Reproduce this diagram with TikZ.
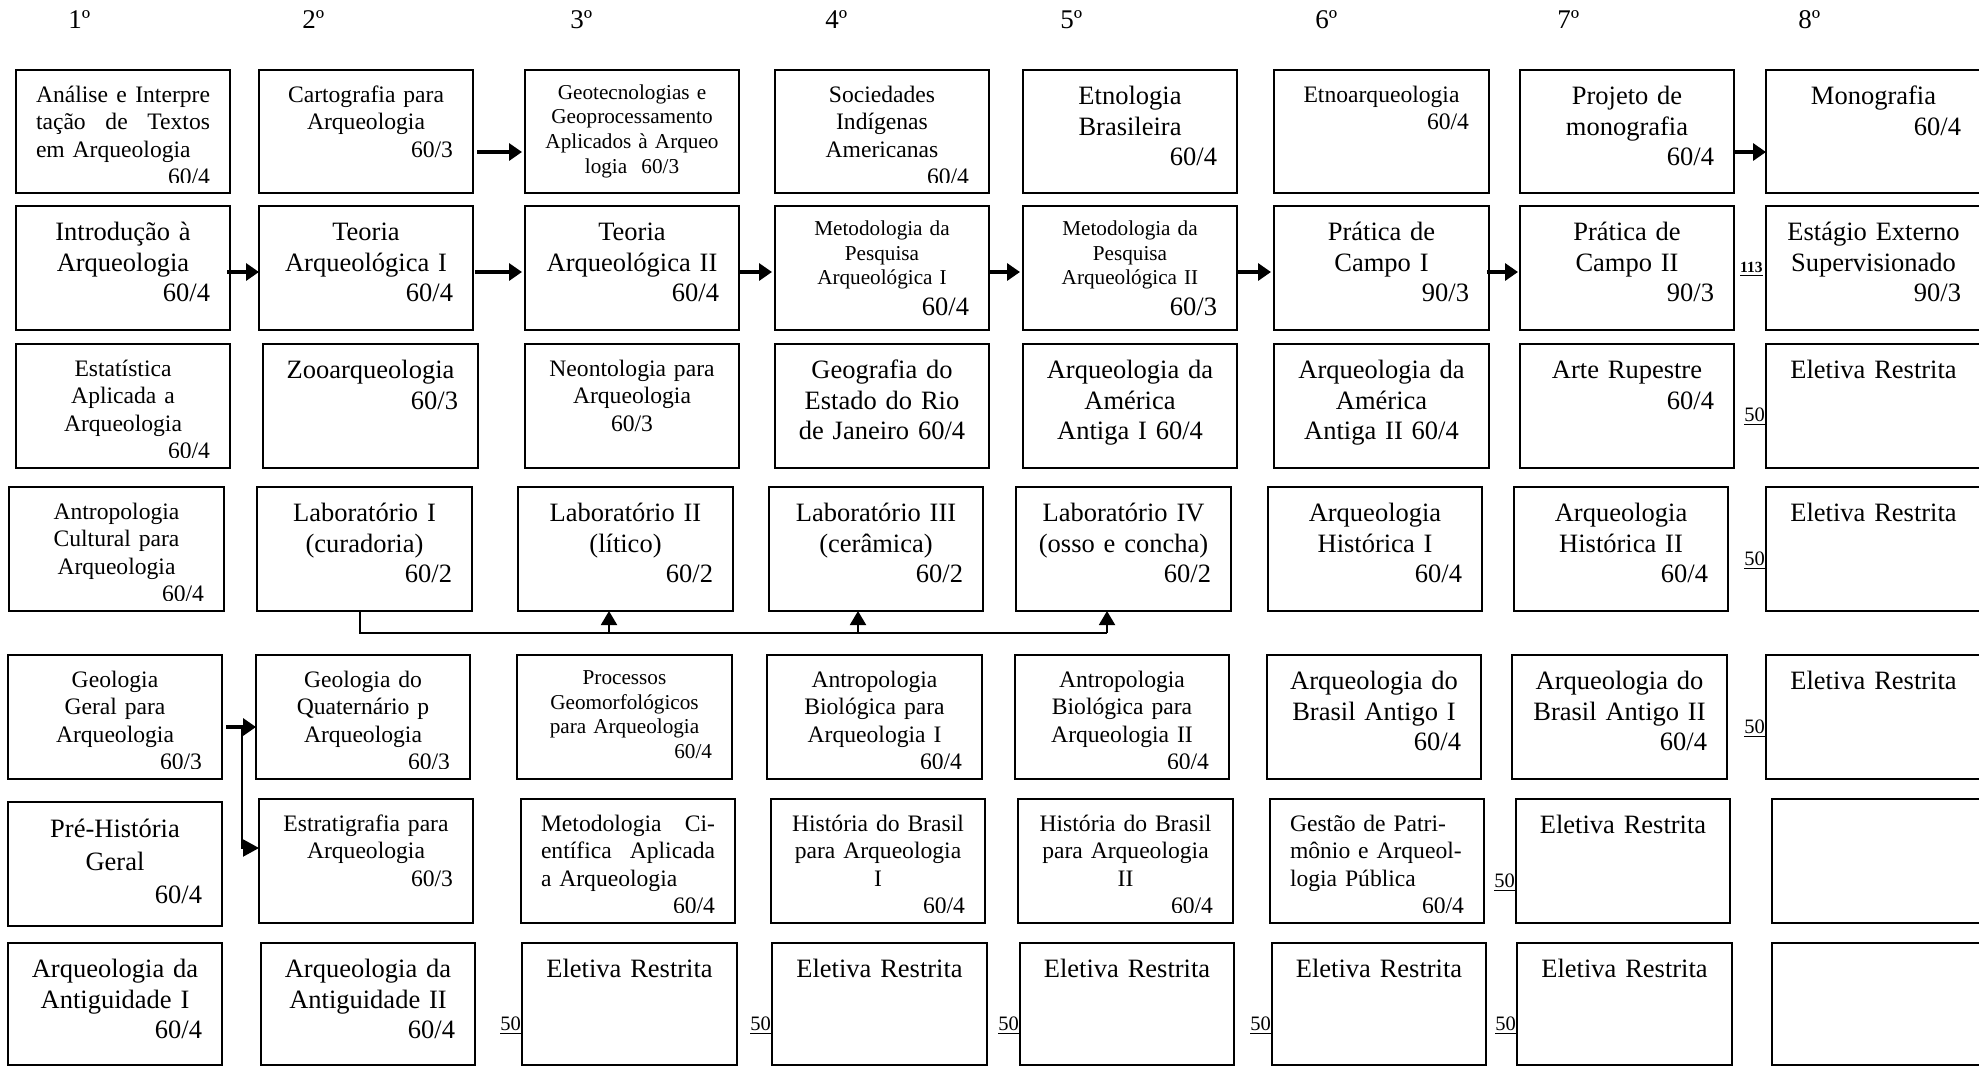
\documentclass[tikz,border=0pt]{standalone}
\usepackage{fontspec}
\setmainfont{Liberation Serif}
\usetikzlibrary{arrows.meta}
\tikzset{
  box/.style={draw, line width=1pt, inner sep=0pt, outer sep=0pt, anchor=north west},
  txt/.style={inner sep=0pt, outer sep=0pt, anchor=north, execute at begin node={\parindent=0pt}},
  lg/.style={font=\fontsize{13.25}{15.25}\selectfont, yshift=-6.6pt},
  lgw/.style={font=\fontsize{13.25}{16.5}\selectfont, yshift=-5.95pt},
  md/.style={font=\fontsize{11.8}{13.75}\selectfont, yshift=-6.6pt},
  sm/.style={font=\fontsize{10.6}{12.35}\selectfont, yshift=-6pt},
  hdr/.style={font=\fontsize{13.5}{15}\selectfont, inner sep=0pt, anchor=base west},
  num/.style={font=\fontsize{10.25}{12}\selectfont, inner sep=0pt, anchor=base east, xshift=-0.4pt},
  bnum/.style={font=\fontsize{7.75}{9}\selectfont\bfseries, inner sep=0pt, anchor=base east, xshift=-1.5pt},
  arr/.style={line width=2pt, -{Triangle[length=6.5pt,width=8.5pt]}},
  brarr/.style={line width=1pt, -{Triangle[length=8pt,width=8.5pt]}},
  bus/.style={line width=1pt},
  busarr/.style={line width=1pt, -{Triangle[length=7pt,width=8pt]}},
}
\newcommand\cb[7]{%
  \node[box, minimum width={(#4-#2)*0.5pt}, minimum height={(#5-#3)*0.5pt}] (#1) at (#2,#3) {};
  \begin{scope}
    \clip (#1.north west) rectangle ([yshift=5.25pt]#1.south east);
    \node[txt, #6, text width={(#4-#2-40)*0.5pt}] (#1-t) at (#1.north) {\strut #7\par};
  \end{scope}
}
\newcommand\jst{\leftskip=0pt\rightskip=0pt\parfillskip=0pt plus 1fil\relax}
\begin{document}
\begin{tikzpicture}[x=0.5pt,y=-0.5pt]
\fill[white] (0,0) rectangle (1979,1067);
\useasboundingbox (0,0) rectangle (1979,1067);

% headers
\node[hdr] (h1) at (68,28) {1º};
\node[hdr] (h2) at (302,28) {2º};
\node[hdr] (h3) at (570,28) {3º};
\node[hdr] (h4) at (825,28) {4º};
\node[hdr] (h5) at (1060,28) {5º};
\node[hdr] (h6) at (1315,28) {6º};
\node[hdr] (h7) at (1557,28) {7º};
\node[hdr] (h8) at (1798,28) {8º};

% row 1
\cb{r1c1}{16}{70}{230}{193}{md}{\jst Análise\hfill e\hfill Interpre\\tação\hfill de\hfill Textos\\em Arqueologia\\\hspace*{\fill}60/4}
\cb{r1c2}{259}{70}{473}{193}{md}{\centering Cartografia para\\Arqueologia\\\hspace*{\fill}60/3}
\cb{r1c3}{525}{70}{739}{193}{sm}{\centering Geotecnologias e\\Geoprocessamento\\Aplicados à Arqueo\\logia\ \ 60/3}
\cb{r1c4}{775}{70}{989}{193}{md}{\centering Sociedades\\Indígenas\\Americanas\\\hspace*{\fill}60/4}
\cb{r1c5}{1023}{70}{1237}{193}{lg}{\centering Etnologia\\Brasileira\\\hspace*{\fill}60/4}
\cb{r1c6}{1274}{70}{1489}{193}{md}{\centering Etnoarqueologia\\\hspace*{\fill}60/4}
\cb{r1c7}{1520}{70}{1734}{193}{lg}{\centering Projeto de\\monografia\\\hspace*{\fill}60/4}
\cb{r1c8}{1766}{70}{1981}{193}{lg}{\centering Monografia\\\hspace*{\fill}60/4}

% row 2
\cb{r2c1}{16}{206}{230}{330}{lg}{\centering Introdução à\\Arqueologia\\\hspace*{\fill}60/4}
\cb{r2c2}{259}{206}{473}{330}{lg}{\centering Teoria\\Arqueológica I\\\hspace*{\fill}60/4}
\cb{r2c3}{525}{206}{739}{330}{lg}{\centering Teoria\\Arqueológica II\\\hspace*{\fill}60/4}
\cb{r2c4}{775}{206}{989}{330}{sm}{\centering Metodologia da\\Pesquisa\\Arqueológica I\\\fontsize{13.25}{15.25}\selectfont\hspace*{\fill}60/4}
\cb{r2c5}{1023}{206}{1237}{330}{sm}{\centering Metodologia da\\Pesquisa\\Arqueológica II\\\fontsize{13.25}{15.25}\selectfont\hspace*{\fill}60/3}
\cb{r2c6}{1274}{206}{1489}{330}{lg}{\centering Prática de\\Campo I\\\hspace*{\fill}90/3}
\cb{r2c7}{1520}{206}{1734}{330}{lg}{\centering Prática de\\Campo II\\\hspace*{\fill}90/3}
\cb{r2c8}{1766}{206}{1981}{330}{lg}{\centering Estágio Externo\\Supervisionado\\\hspace*{\fill}90/3}

% row 3
\cb{r3c1}{16}{344}{230}{468}{md}{\centering Estatística\\Aplicada a\\Arqueologia\\\hspace*{\fill}60/4}
\cb{r3c2}{263}{344}{478}{468}{lg}{\centering Zooarqueologia\\\hspace*{\fill}60/3}
\cb{r3c3}{525}{344}{739}{468}{md}{\centering Neontologia para\\Arqueologia\\60/3}
\cb{r3c4}{775}{344}{989}{468}{lg}{\centering Geografia do\\Estado do Rio\\de Janeiro 60/4}
\cb{r3c5}{1023}{344}{1237}{468}{lg}{\centering Arqueologia da\\América\\Antiga I 60/4}
\cb{r3c6}{1274}{344}{1489}{468}{lg}{\centering Arqueologia da\\América\\Antiga II 60/4}
\cb{r3c7}{1520}{344}{1734}{468}{lg}{\centering Arte Rupestre\\\hspace*{\fill}60/4}
\cb{r3c8}{1766}{344}{1981}{468}{lg}{\centering Eletiva Restrita}

% row 4
\cb{r4c1}{9}{487}{224}{611}{md}{\centering Antropologia\\Cultural para\\Arqueologia\\\hspace*{\fill}60/4}
\cb{r4c2}{257}{487}{472}{611}{lg}{\centering Laboratório I\\(curadoria)\\\hspace*{\fill}60/2}
\cb{r4c3}{518}{487}{733}{611}{lg}{\centering Laboratório II\\(lítico)\\\hspace*{\fill}60/2}
\cb{r4c4}{769}{487}{983}{611}{lg}{\centering Laboratório III\\(cerâmica)\\\hspace*{\fill}60/2}
\cb{r4c5}{1016}{487}{1231}{611}{lg}{\centering Laboratório IV\\(osso e concha)\\\hspace*{\fill}60/2}
\cb{r4c6}{1268}{487}{1482}{611}{lg}{\centering Arqueologia\\Histórica I\\\hspace*{\fill}60/4}
\cb{r4c7}{1514}{487}{1728}{611}{lg}{\centering Arqueologia\\Histórica II\\\hspace*{\fill}60/4}
\cb{r4c8}{1766}{487}{1981}{611}{lg}{\centering Eletiva Restrita}

% row 5
\cb{r5c1}{8}{655}{222}{779}{md}{\centering Geologia\\Geral para\\Arqueologia\\\hspace*{\fill}60/3}
\cb{r5c2}{256}{655}{470}{779}{md}{\centering Geologia do\\Quaternário p\\Arqueologia\\\hspace*{\fill}60/3}
\cb{r5c3}{517}{655}{732}{779}{sm}{\centering Processos\\Geomorfológicos\\para Arqueologia\\\hspace*{\fill}60/4}
\cb{r5c4}{767}{655}{982}{779}{md}{\centering Antropologia\\Biológica para\\Arqueologia I\\\hspace*{\fill}60/4}
\cb{r5c5}{1015}{655}{1229}{779}{md}{\centering Antropologia\\Biológica para\\Arqueologia II\\\hspace*{\fill}60/4}
\cb{r5c6}{1267}{655}{1481}{779}{lg}{\centering Arqueologia do\\Brasil Antigo I\\\hspace*{\fill}60/4}
\cb{r5c7}{1512}{655}{1727}{779}{lg}{\centering Arqueologia do\\Brasil Antigo II\\\hspace*{\fill}60/4}
\cb{r5c8}{1766}{655}{1981}{779}{lg}{\centering Eletiva Restrita}

% row 6
\cb{r6c1}{8}{802}{222}{926}{lgw}{\centering Pré-História\\Geral\\\hspace*{\fill}60/4}
\cb{r6c2}{259}{799}{473}{923}{md}{\centering Estratigrafia para\\Arqueologia\\\hspace*{\fill}60/3}
\cb{r6c3}{521}{799}{735}{923}{md}{\jst Metodologia\hfill Ci-\\entífica\hfill Aplicada\\a Arqueologia\\\hspace*{\fill}60/4}
\cb{r6c4}{771}{799}{985}{923}{md}{\centering História do Brasil\\para Arqueologia\\I\\\hspace*{\fill}60/4}
\cb{r6c5}{1018}{799}{1233}{923}{md}{\centering História do Brasil\\para Arqueologia\\II\\\hspace*{\fill}60/4}
\cb{r6c6}{1270}{799}{1484}{923}{md}{\raggedright Gestão de Patri-\\mônio e Arqueol-\\logia Pública\\\hspace*{\fill}60/4}
\cb{r6c7}{1516}{799}{1730}{923}{lg}{\centering Eletiva Restrita}
\cb{r6c8}{1772}{799}{1981}{923}{lg}{}

% row 7
\cb{r7c1}{8}{943}{222}{1065}{lg}{\centering Arqueologia da\\Antiguidade I\\\hspace*{\fill}60/4}
\cb{r7c2}{261}{943}{475}{1065}{lg}{\centering Arqueologia da\\Antiguidade II\\\hspace*{\fill}60/4}
\cb{r7c3}{522}{943}{737}{1065}{lg}{\centering Eletiva Restrita}
\cb{r7c4}{772}{943}{987}{1065}{lg}{\centering Eletiva Restrita}
\cb{r7c5}{1020}{943}{1234}{1065}{lg}{\centering Eletiva Restrita}
\cb{r7c6}{1272}{943}{1486}{1065}{lg}{\centering Eletiva Restrita}
\cb{r7c7}{1517}{943}{1732}{1065}{lg}{\centering Eletiva Restrita}
\cb{r7c8}{1772}{943}{1981}{1065}{lg}{}

% side numbers
\node[bnum] (n113) at (r2c8.west |- 0,272) {\underline{113}};
\node[num] (n-r3c8) at (r3c8.west |- 0,421) {\underline{50}};
\node[num] (n-r4c8) at (r4c8.west |- 0,565) {\underline{50}};
\node[num] (n-r5c8) at (r5c8.west |- 0,733) {\underline{50}};
\node[num] (n-r6c7) at (r6c7.west |- 0,887) {\underline{50}};
\node[num] (n-r7c3) at (r7c3.west |- 0,1030) {\underline{50}};
\node[num] (n-r7c4) at (r7c4.west |- 0,1030) {\underline{50}};
\node[num] (n-r7c5) at (r7c5.west |- 0,1030) {\underline{50}};
\node[num] (n-r7c6) at (r7c6.west |- 0,1030) {\underline{50}};
\node[num] (n-r7c7) at (r7c7.west |- 0,1030) {\underline{50}};

% arrow levels
\coordinate (ya) at (0,152);
\coordinate (yb) at (0,272);
\coordinate (yc) at (0,727);
\coordinate (yd) at (0,848);

\draw[arr] ([xshift=2pt]r1c2.east |- ya) -- ([xshift=-1.5pt]r1c3.west |- ya);
\draw[arr] (r1c7.east |- ya) -- (r1c8.west |- ya);

\draw[arr] ([xshift=-1.5pt]r2c1.east |- yb) -- (r2c2.west |- yb);
\draw[arr] ([xshift=1pt]r2c2.east |- yb) -- ([xshift=-1.5pt]r2c3.west |- yb);
\draw[arr] (r2c3.east |- yb) -- ([xshift=-1.5pt]r2c4.west |- yb);
\draw[arr] (r2c4.east |- yb) -- ([xshift=-1.5pt]r2c5.west |- yb);
\draw[arr] (r2c5.east |- yb) -- ([xshift=-1.5pt]r2c6.west |- yb);
\draw[arr] ([xshift=-1pt]r2c6.east |- yb) -- ([xshift=-1pt]r2c7.west |- yb);

% geology branch
\coordinate (jn) at (242,727);
\draw[arr] ([xshift=2pt]r5c1.east |- yc) -- (r5c2.west |- yc);
\draw[brarr] (jn) |- (r6c2.west |- yd);

% laboratory bus
\coordinate (bus1) at (360,633);
\coordinate (bus2) at (609,633);
\coordinate (bus3) at (858,633);
\coordinate (bus4) at (1107,633);
\draw[bus] (bus1 |- r4c2.south) -- (bus1) -- (bus4);
\draw[busarr] (bus2) -- (bus2 |- r4c3.south);
\draw[busarr] (bus3) -- (bus3 |- r4c4.south);
\draw[busarr] (bus4) -- (bus4 |- r4c5.south);
\end{tikzpicture}
\end{document}
